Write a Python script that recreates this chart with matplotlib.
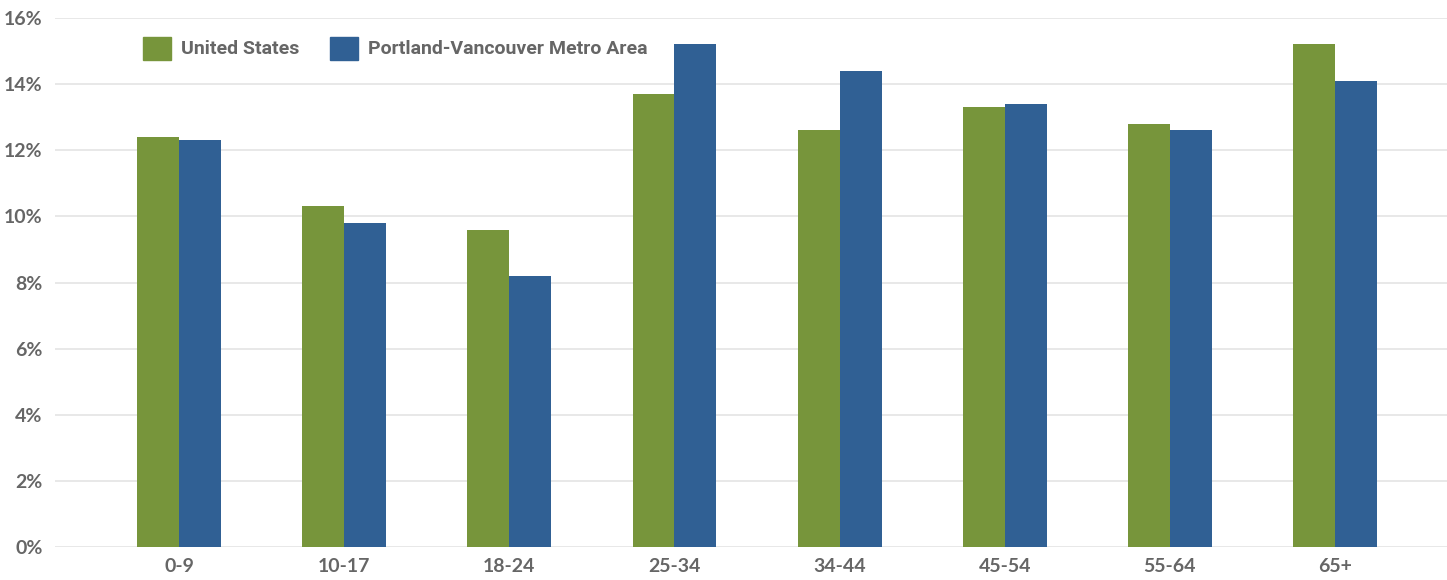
import matplotlib
matplotlib.use('Agg')
import matplotlib.pyplot as plt
import numpy as np
from matplotlib.patches import Patch

# age groups and share of population (%)
groups = ['0-9', '10-17', '18-24', '25-34', '34-44', '45-54', '55-64', '65+']
us = [12.4, 10.3, 9.6, 13.7, 12.6, 13.3, 12.8, 15.2]
portland = [12.3, 9.8, 8.2, 15.2, 14.4, 13.4, 12.6, 14.1]
series_names = ['United States', 'Portland-Vancouver Metro Area']
yticks = [0, 2, 4, 6, 8, 10, 12, 14, 16]

green = '#77953b'
blue = '#306094'
txt = '#666666'

fig = plt.figure(figsize=(14.47, 5.8), dpi=100)
ax = fig.add_axes([55 / 1447, 33 / 580, 1 - 55 / 1447, (547 - 18) / 580])

x = np.arange(len(groups))
w = 0.254
ax.bar(x - w / 2, us, width=w, color=green, zorder=3)
ax.bar(x + w / 2, portland, width=w, color=blue, zorder=3)

ax.set_xlim(-0.751, 7.678)
ax.set_ylim(0, 16)
ax.set_yticks(yticks)
ax.set_yticklabels([str(v) + '%' for v in yticks])
ax.set_xticks(x)
ax.set_xticklabels(groups)
ax.grid(axis='y', color='#e4e4e4', lw=1.2, zorder=0)
for s in ax.spines.values():
    s.set_visible(False)
ax.tick_params(length=0, colors=txt, labelsize=14)
ax.tick_params(axis='y', pad=9)
ax.tick_params(axis='x', pad=8)
for lab in ax.get_xticklabels() + ax.get_yticklabels():
    lab.set_fontfamily(['Lato', 'DejaVu Sans'])
    lab.set_fontweight('bold')

handles = [Patch(color=green), Patch(color=blue)]
leg = ax.legend(handles, series_names, loc='upper left', bbox_to_anchor=(0.0505, 0.998),
                ncol=2, frameon=False, handlelength=1.44, handleheight=1.44,
                handletextpad=0.5, columnspacing=1.6,
                prop={'family': ['Roboto', 'DejaVu Sans'], 'weight': 'bold', 'size': 14})
for t in leg.get_texts():
    t.set_color(txt)

fig.savefig('out.png', dpi=100)
